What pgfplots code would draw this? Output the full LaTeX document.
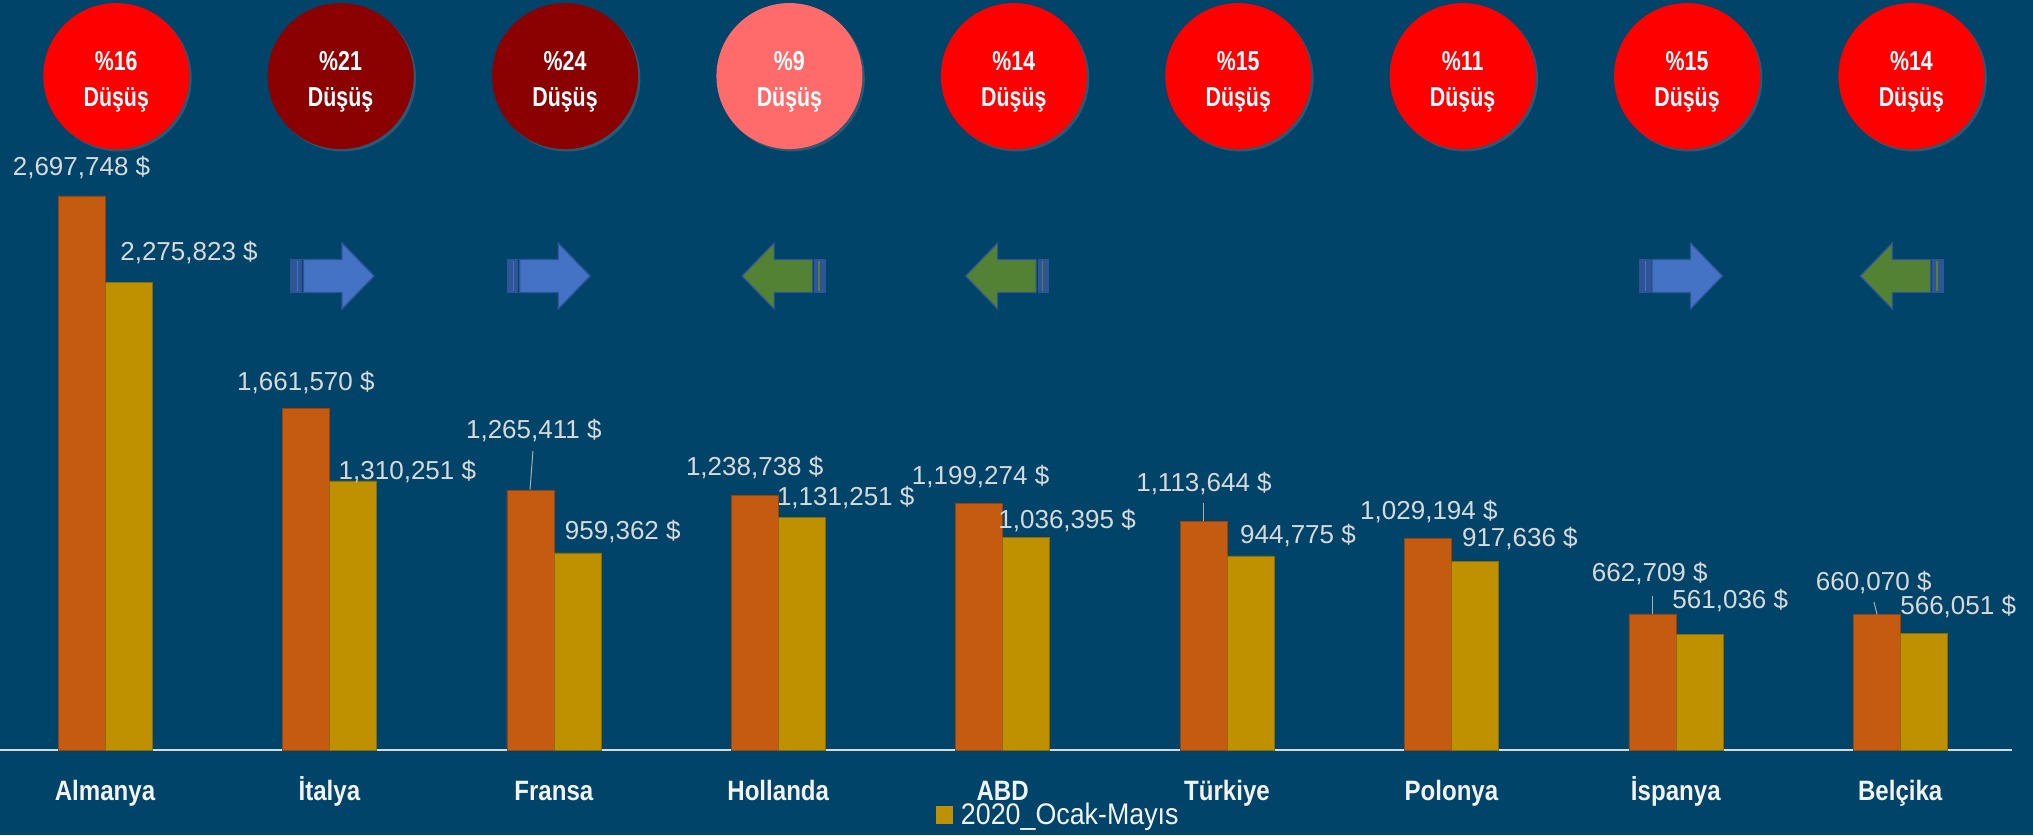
\documentclass[border=0pt]{standalone}
\usepackage{fontspec}
\usepackage{pgfplots}
\usepackage{pgfplotstable}
\pgfplotsset{compat=1.18}
\usetikzlibrary{shadows}
\setmainfont{Liberation Sans}
\newfontfamily\condbold{Liberation Sans}[FakeStretch=0.78]
\newfontfamily\tickfont{Liberation Sans}[FakeStretch=0.86]
\newfontfamily\legfont{Liberation Sans}[FakeStretch=0.90]

\definecolor{bgblue}{HTML}{00446A}
\definecolor{barorange}{HTML}{C55A11}
\definecolor{bargold}{HTML}{BF9000}
\definecolor{lblgray}{HTML}{D9D9D9}
\definecolor{redA}{HTML}{FF0000}
\definecolor{redB}{HTML}{8B0000}
\definecolor{redC}{HTML}{FF6B6B}
\definecolor{arrblue}{HTML}{4472C4}
\definecolor{arrgreen}{HTML}{548235}
\definecolor{arredge}{HTML}{2F5597}

% x y label, then label offset from bar top (pt)
\pgfplotstableread{
x y lab dx dy
0 2697748 2,697,748 0 14
1 1661570 1,661,570 0 13
2 1265411 1,265,411 1.75 30
3 1238738 1,238,738 0 14
4 1199274 1,199,274 0.75 13.5
5 1113644 1,113,644 0.25 19
6 1029194 1,029,194 0.5 13.5
7 662709 662,709 -1.25 20
8 660070 660,070 -1.5 16
}\tOrange
\pgfplotstableread{
x y lab dx dy
0 2275823 2,275,823 30.25 15
1 1310251 1,310,251 27.25 4.5
2 959362 959,362 22.75 10.5
3 1131251 1,131,251 22 10
4 1036395 1,036,395 20.5 8.5
5 944775 944,775 23.75 10
6 917636 917,636 22.5 11.5
7 561036 561,036 15.5 17
8 566051 566,051 17.25 13.5
}\tGold

\newcommand{\dusus}[3]{%
  \node[circle, fill=#2, minimum size=73pt, inner sep=0pt, text=white,
        drop shadow={shadow xshift=1.2pt, shadow yshift=-1.2pt, opacity=0.35},
        font=\condbold\bfseries\fontsize{13.7}{18}\selectfont, align=center]
    at (axis cs:#1,3281000) {\rule{0pt}{15pt}\%#3\\Düşüş};}

\newcommand{\blockarrow}[4]{%
  \filldraw[shift={(axis cs:#1,2307700)}, xscale=#2, fill=#3, draw=#4, line width=0.6pt]
    (-14.5pt,-8.25pt) -- (4.75pt,-8.25pt) -- (4.75pt,-16.5pt) -- (20.75pt,0pt)
    -- (4.75pt,16.5pt) -- (4.75pt,8.25pt) -- (-14.5pt,8.25pt) -- cycle;
  \filldraw[shift={(axis cs:#1,2307700)}, xscale=#2, fill=#4, draw=#4, line width=0.6pt]
    (-20.75pt,-8.25pt) rectangle (-15.5pt,8.25pt);
  \draw[shift={(axis cs:#1,2307700)}, xscale=#2, draw=#3, line width=0.7pt]
    (-17.6pt,-7.6pt) -- (-17.6pt,7.6pt);}

\begin{document}
\begin{tikzpicture}
\fill[bgblue] (0pt,-42.5pt) rectangle (1016.5pt,375pt);
\useasboundingbox (0pt,-42.5pt) rectangle (1016.5pt,375pt);
\begin{axis}[
    at={(0pt,0pt)}, anchor=south west,
    scale only axis,
    width=1006.2pt, height=375pt,
    xmin=-0.468, xmax=8.5,
    ymin=0, ymax=3651400,
    clip=false,
    axis x line*=bottom,
    axis y line=none,
    x axis line style={draw=lblgray, line width=0.9pt},
    xtick={0,...,8},
    xticklabels={Almanya,İtalya,Fransa,Hollanda,ABD,Türkiye,Polonya,İspanya,Belçika},
    xtick style={draw=none},
    xticklabel style={anchor=base, yshift=-21pt, text=white!95!black,
        font=\tickfont\bfseries\fontsize{14}{17}\selectfont},
    ybar=0pt,
    bar width=23.5pt,
    legend style={at={(rel axis cs:0.4651,-0.0867)}, anchor=west, draw=none, fill=none,
        text=white!95!black, font=\legfont\fontsize{14.9}{17}\selectfont,
        inner sep=0pt, /tikz/every even column/.append style={column sep=0pt}},
    nodes near coords={\pgfplotspointmeta\ \$},
    every node near coord/.append style={anchor=center, text=lblgray,
        font=\fontsize{13}{15}\selectfont},
]
\addplot[forget plot, bar shift=-11.75pt, fill=barorange, draw=barorange!75!black, line width=0.3pt,
    point meta=explicit symbolic,
    visualization depends on={\thisrow{dx}\as\dx},
    visualization depends on={\thisrow{dy}\as\dy},
    every node near coord/.append style={xshift=\dx, yshift=\dy}]
    table[x=x, y=y, meta=lab] {\tOrange};
\addplot[bar shift=11.75pt, fill=bargold, draw=bargold!75!black, line width=0.3pt,
    point meta=explicit symbolic,
    visualization depends on={\thisrow{dx}\as\dx},
    visualization depends on={\thisrow{dy}\as\dy},
    every node near coord/.append style={xshift=\dx, yshift=\dy},
    legend image code/.code={\fill[bargold] (0pt,-4.25pt) rectangle (8pt,4.25pt); \path (10pt,0pt);}]
    table[x=x, y=y, meta=lab] {\tGold};
\addlegendentry{2020\_Ocak-Mayıs}

% leader lines
\draw[lblgray!80!black, line width=0.5pt] (axis cs:1.907,1455700) -- (axis cs:1.894,1268000);
\draw[lblgray!80!black, line width=0.5pt] (axis cs:4.893,1202500) -- (axis cs:4.893,1113644);
\draw[lblgray!80!black, line width=0.5pt] (axis cs:6.894,749800) -- (axis cs:6.894,662709);
\draw[lblgray!80!black, line width=0.5pt] (axis cs:7.883,720500) -- (axis cs:7.897,660070);

% circles
\dusus{0.05}{redA}{16}
\dusus{1.05}{redB}{21}
\dusus{2.05}{redB}{24}
\dusus{3.05}{redC}{9}
\dusus{4.05}{redA}{14}
\dusus{5.05}{redA}{15}
\dusus{6.05}{redA}{11}
\dusus{7.05}{redA}{15}
\dusus{8.05}{redA}{14}

% arrows
\blockarrow{1.014}{1}{arrblue}{arredge}
\blockarrow{1.977}{1}{arrblue}{arredge}
\blockarrow{3.024}{-1}{arrgreen}{arredge}
\blockarrow{4.020}{-1}{arrgreen}{arredge}
\blockarrow{7.023}{1}{arrblue}{arredge}
\blockarrow{8.007}{-1}{arrgreen}{arredge}
\end{axis}
\end{tikzpicture}
\end{document}
